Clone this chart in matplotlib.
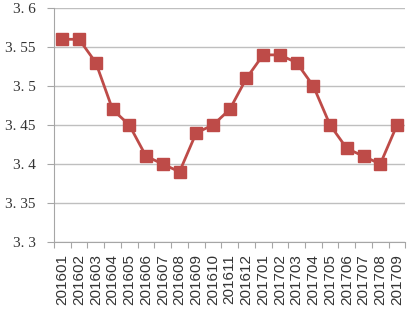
import matplotlib
matplotlib.use("Agg")
import matplotlib.pyplot as plt
import numpy as np

months = ["201601", "201602", "201603", "201604", "201605", "201606", "201607",
          "201608", "201609", "201610", "201611", "201612", "201701", "201702",
          "201703", "201704", "201705", "201706", "201707", "201708", "201709"]
values = [3.56, 3.56, 3.53, 3.47, 3.45, 3.41, 3.40, 3.39, 3.44, 3.45, 3.47,
          3.51, 3.54, 3.54, 3.53, 3.50, 3.45, 3.42, 3.41, 3.40, 3.45]
yticks = [3.3, 3.35, 3.4, 3.45, 3.5, 3.55, 3.6]
ylabels = ["3. 3", "3. 35", "3. 4", "3. 45", "3. 5", "3. 55", "3. 6"]

fig = plt.figure(figsize=(4.2, 3.12), dpi=100)
ax = fig.add_axes([0.1286, 0.2244, 0.8366, 0.7496])

x = np.arange(len(months))
ax.plot(x, values, color="#BE4B48", linewidth=2.0, marker="s", markersize=8,
        markerfacecolor="#BE4B48", markeredgecolor="#BE4B48", zorder=3)

ax.set_ylim(3.3, 3.6)
ax.set_xlim(-0.5, len(months) - 0.5)
ax.set_yticks(yticks)
ax.set_yticklabels(ylabels, fontfamily="Liberation Serif", fontsize=11, color="#333333")
ax.set_xticks(x)
ax.set_xticklabels(months, rotation=90, fontfamily="Liberation Sans", fontsize=11, color="#333333")
ax.set_xticks(np.arange(-0.5, len(months), 1.0), minor=True)
ax.tick_params(axis="x", which="major", length=0, pad=9)
ax.tick_params(axis="x", which="minor", length=4, color="#A6A6A6", width=0.8)
ax.tick_params(axis="y", length=5, color="#A6A6A6", width=0.8, pad=8)

ax.grid(axis="y", color="#BFBFBF", linewidth=1.0)
ax.set_axisbelow(True)
for s in ["top", "right"]:
    ax.spines[s].set_visible(False)
for s in ["left", "bottom"]:
    ax.spines[s].set_color("#A6A6A6")
    ax.spines[s].set_linewidth(0.8)

fig.savefig("out.png", dpi=100, facecolor="white")
